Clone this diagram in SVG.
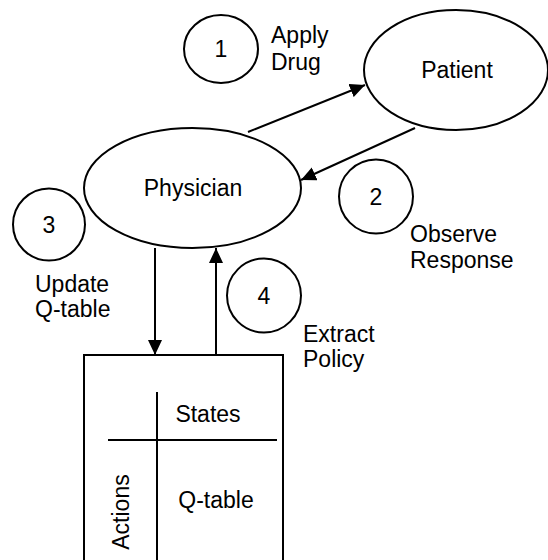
<svg xmlns="http://www.w3.org/2000/svg" width="548" height="560" viewBox="0 0 548 560">
<style>
.s{fill:#fff;stroke:#000;stroke-width:2}
.l{fill:none;stroke:#000;stroke-width:2}
text{font-family:"Liberation Sans",Arial,sans-serif;font-size:23px;fill:#000}
.c{text-anchor:middle}
</style>
<defs>
<marker id="ah" markerUnits="userSpaceOnUse" markerWidth="15" markerHeight="14" refX="15" refY="7" orient="auto">
<path d="M0,0 L15,7 L0,14 Z" fill="#000"/>
</marker>
</defs>
<rect width="548" height="560" fill="#fff"/>
<g id="connectors">
<line class="l" x1="248" y1="132" x2="365" y2="85" marker-end="url(#ah)"/>
<line class="l" x1="415" y1="128" x2="301" y2="180" marker-end="url(#ah)"/>
<line class="l" x1="155" y1="248" x2="155" y2="355" marker-end="url(#ah)"/>
<line class="l" x1="216" y1="355" x2="216" y2="248" marker-end="url(#ah)"/>
</g>
<g id="patient">
<ellipse class="s" cx="456" cy="70" rx="92" ry="60"/>
<text class="c" x="457" y="78">Patient</text>
</g>
<g id="physician">
<ellipse class="s" cx="192.5" cy="188" rx="108.5" ry="60"/>
<text class="c" x="193" y="196">Physician</text>
</g>
<g id="step1">
<ellipse class="s" cx="221" cy="49" rx="37" ry="34"/>
<text class="c" x="221" y="57">1</text>
<text x="271" y="43">Apply</text>
<text x="271" y="70">Drug</text>
</g>
<g id="step2">
<circle class="s" cx="376" cy="196.5" r="37"/>
<text class="c" x="376" y="205">2</text>
<text x="410" y="242">Observe</text>
<text x="410" y="268">Response</text>
</g>
<g id="step3">
<circle class="s" cx="49" cy="224.5" r="36"/>
<text class="c" x="49" y="233">3</text>
<text x="35" y="292">Update</text>
<text x="35" y="317">Q-table</text>
</g>
<g id="step4">
<circle class="s" cx="264" cy="295.5" r="37"/>
<text class="c" x="264" y="304">4</text>
<text x="303" y="342">Extract</text>
<text x="303" y="367">Policy</text>
</g>
<g id="qtable">
<rect class="s" x="84" y="355" width="199" height="215"/>
<line class="l" x1="157" y1="392" x2="157" y2="560"/>
<line class="l" x1="108" y1="440" x2="277" y2="440"/>
<text class="c" x="208" y="422">States</text>
<text class="c" x="216" y="508">Q-table</text>
<text class="c" transform="translate(129,512) rotate(-90)">Actions</text>
</g>
</svg>
